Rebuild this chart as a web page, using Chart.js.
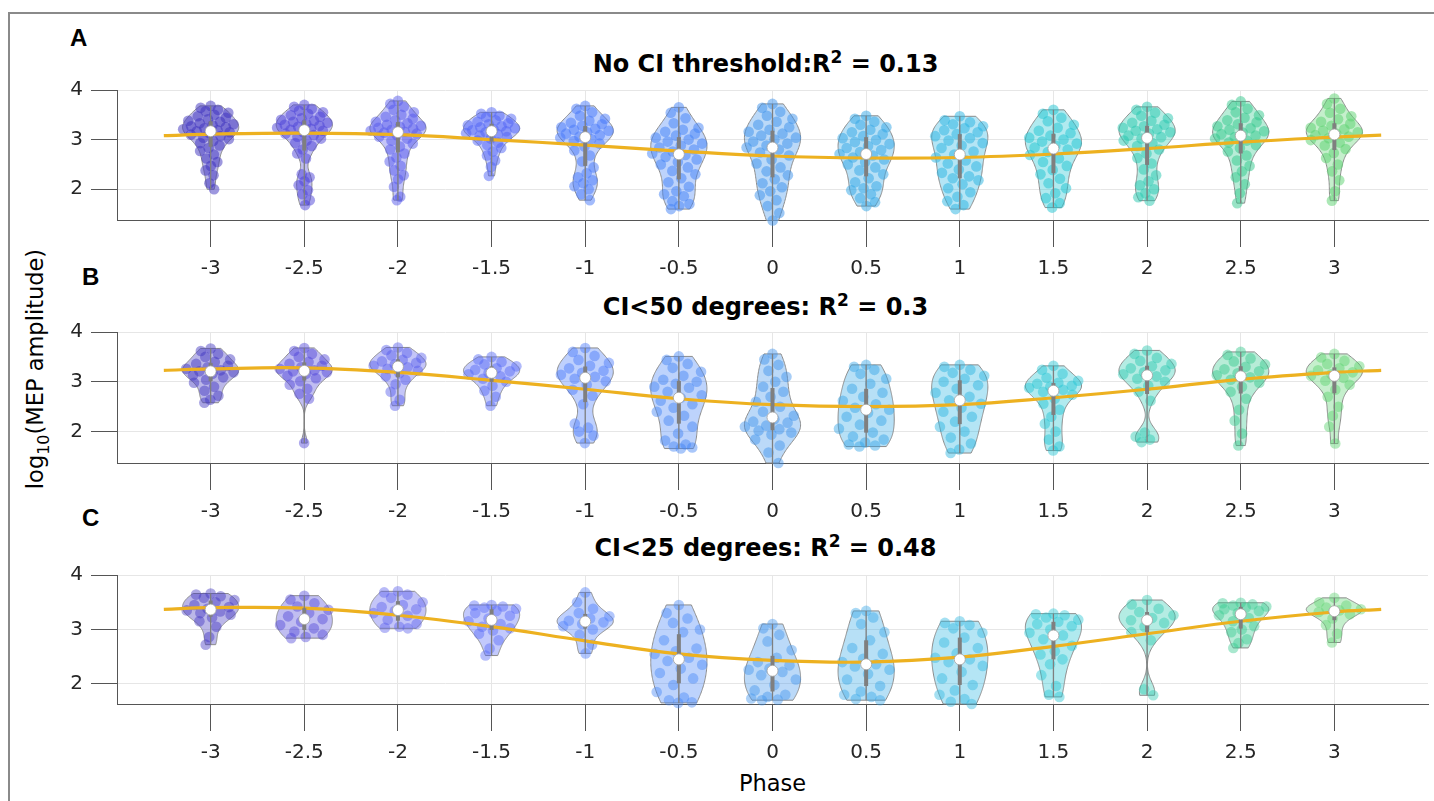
<!DOCTYPE html>
<html>
<head>
<meta charset="utf-8">
<script src="https://cdn.jsdelivr.net/npm/chart.js@4.4.1/dist/chart.umd.min.js"></script>
<style>
  body { margin: 0; background: #fff; width: 1434px; height: 801px; overflow: hidden; position: relative; font-family: 'DejaVu Sans', sans-serif; color: #000; }
  .frame { position: absolute; left: 8px; top: 12px; width: 1426px; height: 789px; border-top: 2px solid #8a8a8a; border-left: 2px solid #8a8a8a; box-sizing: border-box; }
  canvas { position: absolute; left: 0; }
  .title { position: absolute; left: 110px; width: 1311px; text-align: center; font-weight: bold; font-size: 24px; line-height: 24px; white-space: nowrap; }
  .title .sup { font-size: 17px; position: relative; top: -9px; }
  .letter { position: absolute; font-family: 'Liberation Sans', Arial, sans-serif; font-weight: bold; font-size: 24px; line-height: 24px; }
  .ylab { position: absolute; left: 36px; top: 369px; transform: translate(-50%, -50%) rotate(-90deg); white-space: nowrap; font-size: 22.5px; line-height: 26px; }
  .ylab .sub { font-size: 16px; position: relative; top: 6px; }
  .xlab { position: absolute; left: 117px; width: 1311px; top: 772px; text-align: center; font-size: 22.5px; line-height: 22.5px; }
</style>
</head>
<body>
<div class="frame"></div>
<div class="letter" style="left:70px;top:26px">A</div>
<div class="letter" style="left:82px;top:265px">B</div>
<div class="letter" style="left:82px;top:506px">C</div>
<div class="title" style="top:51.5px">No CI threshold:R<span class="sup">2</span> = 0.13</div>
<div class="title" style="top:294.5px">CI&lt;50 degrees: R<span class="sup">2</span> = 0.3</div>
<div class="title" style="top:535.5px">CI&lt;25 degrees: R<span class="sup">2</span> = 0.48</div>
<div class="ylab">log<span class="sub">10</span>(MEP amplitude)</div>
<div class="xlab">Phase</div>
<canvas id="panelA" width="1434" height="220" style="top:70px"></canvas>
<canvas id="panelB" width="1434" height="220" style="top:312px"></canvas>
<canvas id="panelC" width="1434" height="220" style="top:555px"></canvas>
<script>
// phase bins and their colours
const phases = [-3, -2.5, -2, -1.5, -1, -0.5, 0, 0.5, 1, 1.5, 2, 2.5, 3];
const phaseColors = [
  [60, 48, 190], [75, 65, 215], [85, 90, 235], [80, 100, 245], [70, 120, 250],
  [65, 130, 245], [60, 145, 235], [50, 165, 230], [40, 180, 225], [30, 195, 210],
  [40, 200, 175], [50, 200, 140], [90, 210, 110]
];
const yTicks = [2, 3, 4];

// fitted cosine curve, read at these phases
const fitPhase = [-3.25, -3, -2.5, -2, -1.5, -1, -0.5, 0, 0.5, 1, 1.5, 2, 2.5, 3, 3.25];
const fitA = [3.08, 3.11, 3.13, 3.10, 3.00, 2.89, 2.77, 2.67, 2.63, 2.64, 2.71, 2.82, 2.95, 3.05, 3.09];
const fitB = [3.23, 3.26, 3.28, 3.19, 3.03, 2.85, 2.66, 2.54, 2.50, 2.54, 2.68, 2.85, 3.05, 3.19, 3.23];
const fitC = [3.37, 3.40, 3.39, 3.26, 3.05, 2.79, 2.55, 2.43, 2.40, 2.49, 2.69, 2.92, 3.15, 3.32, 3.37];

// log10(MEP amplitude) per phase bin, panel A (no CI threshold)
const mepA = [
  [3.68,3.64,3.6,3.57,3.54,3.5,3.47,3.44,3.41,3.38,3.36,3.33,3.31,3.29,3.27,3.25,3.23,3.21,3.19,3.17,3.15,3.13,3.1,3.07,3.04,3.01,2.97,2.93,2.88,2.83,2.77,2.7,2.62,2.55,2.47,2.38,2.28,2.12,2.0],
  [3.7,3.66,3.62,3.58,3.55,3.52,3.49,3.46,3.43,3.4,3.38,3.36,3.34,3.32,3.3,3.28,3.26,3.24,3.22,3.2,3.18,3.15,3.12,3.09,3.06,3.02,2.98,2.93,2.87,2.8,2.72,2.62,2.3,2.24,2.16,2.08,1.98,1.9,1.78,1.68],
  [3.78,3.72,3.66,3.6,3.55,3.5,3.46,3.42,3.39,3.36,3.33,3.3,3.28,3.26,3.24,3.22,3.2,3.18,3.16,3.14,3.12,3.09,3.06,3.02,2.98,2.92,2.86,2.8,2.72,2.64,2.56,2.47,2.38,2.28,2.2,2.05,1.85,1.78],
  [3.55,3.52,3.48,3.45,3.42,3.39,3.36,3.33,3.31,3.29,3.27,3.25,3.23,3.21,3.19,3.17,3.15,3.13,3.11,3.08,3.05,3.02,2.98,2.94,2.89,2.83,2.76,2.68,2.58,2.45,2.27],
  [3.68,3.62,3.55,3.48,3.42,3.38,3.34,3.31,3.28,3.25,3.22,3.2,3.18,3.15,3.12,3.09,3.06,3.04,3.01,2.97,2.92,2.86,2.78,2.68,2.56,2.44,2.32,2.24,2.18,2.12,2.06,2.0,1.9,1.78],
  [3.65,3.54,3.43,3.33,3.24,3.2,3.16,3.12,3.08,3.04,3.0,2.96,2.92,2.88,2.84,2.8,2.76,2.72,2.69,2.65,2.6,2.55,2.5,2.44,2.37,2.3,2.22,2.14,2.05,1.96,1.9,1.86,1.76,1.7,1.66,1.6],
  [3.72,3.64,3.56,3.48,3.42,3.36,3.3,3.25,3.2,3.16,3.12,3.08,3.04,3.0,2.96,2.92,2.88,2.84,2.8,2.74,2.68,2.6,2.52,2.44,2.36,2.28,2.2,2.12,2.04,1.96,1.88,1.78,1.66,1.52,1.37],
  [3.48,3.42,3.36,3.3,3.25,3.2,3.15,3.11,3.07,3.03,2.99,2.95,2.91,2.87,2.83,2.79,2.75,2.71,2.68,2.64,2.6,2.55,2.5,2.44,2.38,2.3,2.22,2.14,2.06,2.02,1.98,1.9,1.82,1.74,1.66],
  [3.47,3.39,3.35,3.31,3.27,3.23,3.19,3.15,3.11,3.07,3.03,2.98,2.93,2.88,2.83,2.76,2.7,2.64,2.58,2.52,2.46,2.4,2.33,2.26,2.22,2.18,2.1,2.02,1.94,1.85,1.76,1.68,1.6],
  [3.6,3.52,3.44,3.37,3.3,3.24,3.18,3.13,3.08,3.04,3.0,2.96,2.92,2.88,2.84,2.8,2.75,2.69,2.62,2.55,2.47,2.39,2.3,2.21,2.12,2.02,1.92,1.82,1.72,1.63],
  [3.66,3.6,3.54,3.48,3.43,3.38,3.34,3.3,3.27,3.24,3.21,3.18,3.15,3.12,3.08,3.05,3.02,2.98,2.93,2.87,2.8,2.72,2.63,2.52,2.4,2.28,2.16,2.08,2.0,1.92,1.84,1.77],
  [3.77,3.7,3.62,3.55,3.49,3.44,3.39,3.35,3.31,3.27,3.23,3.2,3.17,3.14,3.11,3.08,3.05,3.02,2.98,2.94,2.89,2.83,2.76,2.68,2.58,2.47,2.36,2.24,2.1,1.92,1.72],
  [3.83,3.72,3.62,3.54,3.47,3.41,3.36,3.32,3.28,3.24,3.21,3.18,3.15,3.12,3.09,3.06,3.03,2.99,2.94,2.88,2.81,2.73,2.63,2.5,2.36,2.18,1.96,1.77]
];

// panel B (CI < 50 degrees)
const mepB = [
  [3.67,3.62,3.56,3.5,3.45,3.4,3.36,3.32,3.29,3.26,3.23,3.21,3.19,3.16,3.13,3.09,3.04,2.98,2.9,2.82,2.72,2.64,2.58],
  [3.68,3.62,3.56,3.5,3.45,3.4,3.36,3.32,3.29,3.26,3.23,3.21,3.19,3.16,3.12,3.07,3.01,2.94,2.86,2.76,2.66,1.77],
  [3.69,3.64,3.58,3.53,3.48,3.44,3.41,3.38,3.35,3.32,3.29,3.26,3.22,3.17,3.11,3.04,2.95,2.8,2.64,2.52],
  [3.5,3.45,3.4,3.35,3.31,3.27,3.24,3.21,3.18,3.15,3.11,3.06,3.0,2.92,2.82,2.7,2.52],
  [3.68,3.6,3.52,3.44,3.38,3.32,3.27,3.22,3.18,3.14,3.1,3.06,3.01,2.94,2.84,2.72,2.55,2.16,2.08,2.0,1.92,1.77],
  [3.51,3.44,3.36,3.28,3.2,3.12,3.04,3.0,2.96,2.9,2.88,2.8,2.73,2.68,2.62,2.55,2.48,2.4,2.32,2.22,2.1,1.96,1.82,1.74,1.7,1.68,1.66],
  [3.56,3.45,3.34,3.22,3.1,3.0,2.9,2.8,2.7,2.6,2.5,2.4,2.32,2.25,2.2,2.18,2.12,2.1,2.05,2.02,1.98,1.94,1.84,1.72,1.58,1.37],
  [3.34,3.3,3.24,3.16,3.06,2.96,2.86,2.78,2.7,2.62,2.55,2.48,2.44,2.38,2.3,2.22,2.14,2.06,1.98,1.9,1.84,1.78,1.74,1.72,1.7],
  [3.34,3.3,3.24,3.18,3.12,3.06,3.0,2.93,2.86,2.78,2.7,2.63,2.56,2.48,2.4,2.3,2.2,2.1,2.0,1.88,1.76,1.64,1.57],
  [3.32,3.24,3.16,3.08,3.02,2.98,2.96,2.92,2.9,2.88,2.84,2.8,2.74,2.66,2.56,2.44,2.3,2.16,2.0,1.84,1.7,1.62],
  [3.63,3.56,3.48,3.42,3.36,3.31,3.27,3.23,3.19,3.15,3.11,3.06,3.0,2.92,2.8,2.62,1.98,1.9,1.84,1.79],
  [3.6,3.54,3.47,3.41,3.35,3.3,3.25,3.21,3.17,3.13,3.09,3.04,2.98,2.9,2.8,2.66,2.44,2.22,1.96,1.72],
  [3.56,3.49,3.42,3.36,3.31,3.27,3.23,3.19,3.15,3.12,3.08,3.02,2.94,2.84,2.7,2.5,2.32,2.1,1.76]
];

// panel C (CI < 25 degrees)
const mepC = [
  [3.66,3.64,3.61,3.58,3.54,3.5,3.45,3.41,3.38,3.35,3.33,3.3,3.27,3.22,3.15,3.05,2.86,2.72],
  [3.62,3.55,3.48,3.42,3.36,3.3,3.24,3.19,3.14,3.08,3.02,2.96,2.9,2.86,2.84],
  [3.7,3.68,3.64,3.58,3.5,3.45,3.41,3.37,3.34,3.3,3.25,3.18,3.1,3.05,3.03,3.02],
  [3.45,3.44,3.42,3.4,3.38,3.34,3.3,3.25,3.2,3.15,3.1,3.05,3.02,2.98,2.92,2.8,2.65,2.52],
  [3.68,3.5,3.38,3.3,3.24,3.2,3.16,3.13,3.1,3.06,3.0,2.9,2.72,2.56],
  [3.45,3.3,3.2,3.12,3.0,2.95,2.8,2.65,2.6,2.55,2.48,2.42,2.35,2.28,2.2,2.1,1.98,1.85,1.75,1.7,1.66,1.65],
  [3.1,3.02,2.9,2.78,2.62,2.48,2.4,2.34,2.28,2.26,2.22,2.16,2.08,1.98,1.88,1.8,1.76,1.73,1.71,1.7],
  [3.34,3.3,3.22,3.1,2.95,2.8,2.66,2.55,2.46,2.4,2.36,2.32,2.26,2.18,2.08,1.96,1.86,1.8,1.76,1.72,1.7],
  [3.15,3.12,3.08,3.02,2.94,2.85,2.76,2.66,2.56,2.48,2.45,2.4,2.33,2.22,2.1,1.98,1.88,1.8,1.72,1.67,1.63],
  [3.29,3.28,3.26,3.22,3.18,3.14,3.1,3.06,3.0,2.94,2.89,2.82,2.7,2.6,2.54,2.45,2.36,2.16,1.96,1.8,1.76],
  [3.54,3.46,3.38,3.32,3.26,3.21,3.17,3.12,3.05,2.95,2.8,1.9,1.79],
  [3.49,3.48,3.46,3.44,3.42,3.4,3.37,3.34,3.3,3.26,3.21,3.15,3.06,3.0,2.95,2.82,2.75,2.66],
  [3.58,3.5,3.44,3.4,3.37,3.35,3.32,3.28,3.2,3.08,2.92,2.76]
];

const HALF_WIDTH = 0.15;   // violin half width in phase units
const GOLDEN = 0.6180339887;

function median(a) {
  const s = [...a].sort((p, q) => p - q);
  const n = s.length;
  return n % 2 ? s[(n - 1) / 2] : (s[n / 2 - 1] + s[n / 2]) / 2;
}
function quantile(s, p) {
  const i = (s.length - 1) * p;
  const lo = Math.floor(i);
  const hi = Math.min(lo + 1, s.length - 1);
  return s[lo] + (s[hi] - s[lo]) * (i - lo);
}

// kernel density like ksdensity, cut at the data range
function buildViolin(vals, pos, nominalN) {
  const s = [...vals].sort((a, b) => a - b);
  const med = median(s);
  const mad = median(s.map(v => Math.abs(v - med)));
  const h = (mad / 0.6745) * Math.pow(4 / (3 * nominalN), 0.2);
  const dens = y => s.reduce((acc, v) => acc + Math.exp(-0.5 * ((y - v) / h) ** 2), 0);
  const lo = s[0], hi = s[s.length - 1];
  const outline = [];
  for (let k = 0; k <= 80; k++) {
    const y = lo + (hi - lo) * k / 80;
    outline.push({ y: y, d: dens(y) });
  }
  const dmax = Math.max(...outline.map(o => o.d));
  outline.forEach(o => { o.w = HALF_WIDTH * o.d / dmax; });
  const points = vals.map((v, i) => {
    const j = 2 * ((0.5 + i * GOLDEN) % 1) - 1;
    return { x: pos + j * HALF_WIDTH * dens(v) / dmax, y: v };
  });
  return { pos, lo, hi, med, q1: quantile(s, 0.25), q3: quantile(s, 0.75), outline, points };
}

function rgba(c, a) { return 'rgba(' + c[0] + ',' + c[1] + ',' + c[2] + ',' + a + ')'; }

function violinPlugin(violins) {
  return {
    id: 'violins',
    beforeDatasetsDraw(chart) {
      const ctx = chart.ctx, xs = chart.scales.x, ys = chart.scales.y;
      violins.forEach((v, i) => {
        ctx.save();
        ctx.beginPath();
        v.outline.forEach((o, k) => {
          const px = xs.getPixelForValue(v.pos + o.w), py = ys.getPixelForValue(o.y);
          if (k === 0) ctx.moveTo(px, py); else ctx.lineTo(px, py);
        });
        for (let k = v.outline.length - 1; k >= 0; k--) {
          const o = v.outline[k];
          ctx.lineTo(xs.getPixelForValue(v.pos - o.w), ys.getPixelForValue(o.y));
        }
        ctx.closePath();
        ctx.fillStyle = rgba(phaseColors[i], 0.35);
        ctx.fill();
        ctx.strokeStyle = '#8c8c8c';
        ctx.lineWidth = 1;
        ctx.stroke();
        ctx.restore();
      });
    },
    afterDatasetsDraw(chart) {
      const ctx = chart.ctx, xs = chart.scales.x, ys = chart.scales.y;
      violins.forEach(v => {
        const px = xs.getPixelForValue(v.pos);
        ctx.save();
        ctx.strokeStyle = '#7f7f7f';
        ctx.lineWidth = 1.3;
        ctx.beginPath();
        ctx.moveTo(px, ys.getPixelForValue(v.hi));
        ctx.lineTo(px, ys.getPixelForValue(v.lo));
        ctx.stroke();
        ctx.lineWidth = 4;
        ctx.beginPath();
        ctx.moveTo(px, ys.getPixelForValue(v.q3));
        ctx.lineTo(px, ys.getPixelForValue(v.q1));
        ctx.stroke();
        ctx.beginPath();
        ctx.arc(px, ys.getPixelForValue(v.med), 5.5, 0, Math.PI * 2);
        ctx.fillStyle = '#ffffff';
        ctx.fill();
        ctx.lineWidth = 0.8;
        ctx.strokeStyle = '#a0a0a0';
        ctx.stroke();
        ctx.restore();
      });
    }
  };
}

Chart.defaults.font.family = "'DejaVu Sans', sans-serif";

function makePanel(id, mep, fit, yMin, padTop, xAxisH, nominalN, pointAlpha) {
  const violins = mep.map((vals, i) => buildViolin(vals, phases[i], nominalN));
  const datasets = violins.map((v, i) => ({
    type: 'scatter',
    data: v.points,
    pointRadius: 5.3,
    pointBorderWidth: 0,
    pointBackgroundColor: rgba(phaseColors[i], pointAlpha),
    clip: false,
    order: 2
  }));
  datasets.push({
    type: 'line',
    data: fitPhase.map((p, i) => ({ x: p, y: fit[i] })),
    borderColor: '#EDB120',
    borderWidth: 3.2,
    pointRadius: 0,
    tension: 0.4,
    fill: false,
    order: 0
  });
  new Chart(document.getElementById(id), {
    type: 'scatter',
    data: { datasets },
    plugins: [violinPlugin(violins)],
    options: {
      responsive: false,
      devicePixelRatio: 1,
      animation: false,
      events: [],
      layout: { padding: { top: padTop, right: 6, left: 0, bottom: 0 } },
      plugins: { legend: { display: false }, tooltip: { enabled: false } },
      scales: {
        x: {
          type: 'linear', min: -3.5, max: 3.5,
          afterBuildTicks: sc => { sc.ticks = phases.map(v => ({ value: v })); },
          afterFit: sc => { sc.height = xAxisH; },
          ticks: { font: { size: 20 }, color: '#262626', padding: 10, maxRotation: 0, autoSkip: false, callback: v => String(v) },
          grid: { color: '#e6e6e6', lineWidth: 1, drawTicks: true, tickLength: 27, tickColor: '#555555', tickWidth: 1 },
          border: { display: true, color: '#555555', width: 1 }
        },
        y: {
          type: 'linear', min: yMin, max: 4,
          afterBuildTicks: sc => { sc.ticks = yTicks.map(v => ({ value: v })); },
          afterFit: sc => { sc.width = 117; },
          ticks: { font: { size: 20 }, color: '#262626', padding: 8, callback: v => String(v) },
          grid: { color: '#e6e6e6', lineWidth: 1, drawTicks: true, tickLength: 26, tickColor: '#555555', tickWidth: 1 },
          border: { display: true, color: '#555555', width: 1 }
        }
      }
    }
  });
}

makePanel('panelA', mepA, fitA, 1.38, 11, 70, 150, 0.5);
makePanel('panelB', mepB, fitB, 1.37, 11, 69, 60, 0.45);
makePanel('panelC', mepC, fitC, 1.63, 11, 71, 20, 0.42);
</script>
</body>
</html>
